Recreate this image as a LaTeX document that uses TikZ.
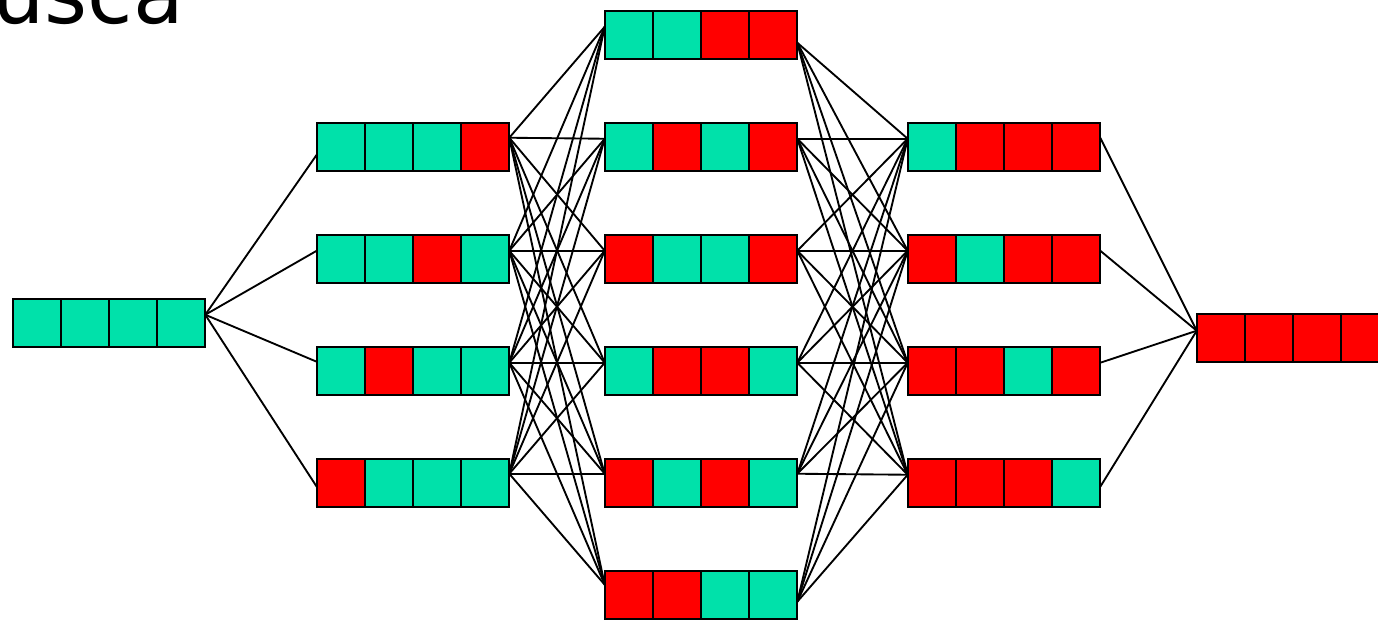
\documentclass[tikz,border=0pt]{standalone}
\usepackage{fontspec}
\newfontfamily\titlefont{DejaVu Sans}
\definecolor{bitG}{RGB}{0,225,170}
\definecolor{bitR}{RGB}{255,0,0}
\tikzset{
  G/.style={fill=bitG},
  R/.style={fill=bitR},
  cell/.style={draw=black, line width=1.9pt},
  conn/.style={draw=black, line width=1.4pt},
  boxnode/.style={inner sep=0pt, minimum width=144pt, minimum height=36pt}
}
% #1 name, #2 x-left, #3 y-top, #4-#7 cell colours, #8 left offset, #9 right offset (px)
\newcommand\bitbox[9]{%
  \foreach \cc [count=\ii from 0] in {#4,#5,#6,#7} {
    \path[cell,\cc] (#2+48*\ii,#3) rectangle ++(48,48);
  }
  \node[boxnode] (#1) at (#2+96,#3+24) {};
  \coordinate (#1L) at ([yshift=-#8*0.75pt]#1.north west);
  \coordinate (#1R) at ([yshift=-#9*0.75pt]#1.north east);
}
\begin{document}
\begin{tikzpicture}[x=0.75pt,y=-0.75pt]
\useasboundingbox (0,0) rectangle (1378,619);
\clip (0,0) rectangle (1378,619);

\node[anchor=base west, inner sep=0pt, font=\titlefont\fontsize{62}{62}\selectfont] (title) at (-8,23) {usca};

% column 1
\bitbox{a}{13}{299}{G}{G}{G}{G}{16}{16}
% column 2
\bitbox{b1}{317}{123}{G}{G}{G}{R}{32}{15}
\bitbox{b2}{317}{235}{G}{G}{R}{G}{16}{16}
\bitbox{b3}{317}{347}{G}{R}{G}{G}{15}{16}
\bitbox{b4}{317}{459}{R}{G}{G}{G}{28}{15}
% column 3
\bitbox{c1}{605}{11}{G}{G}{R}{R}{16}{32}
\bitbox{c2}{605}{123}{G}{R}{G}{R}{16}{16}
\bitbox{c3}{605}{235}{R}{G}{G}{R}{16}{16}
\bitbox{c4}{605}{347}{G}{R}{R}{G}{16}{16}
\bitbox{c5}{605}{459}{R}{G}{R}{G}{15}{15}
\bitbox{c6}{605}{571}{R}{R}{G}{G}{14}{31}
% column 4
\bitbox{d1}{908}{123}{G}{R}{R}{R}{16}{15}
\bitbox{d2}{908}{235}{R}{G}{R}{R}{16}{16}
\bitbox{d3}{908}{347}{R}{R}{G}{R}{16}{16}
\bitbox{d4}{908}{459}{R}{R}{R}{G}{16}{28}
% column 5
\bitbox{e}{1197}{314}{R}{R}{R}{R}{17}{17}

% connectors
\foreach \t in {b1,b2,b3,b4} { \draw[conn] (aR) -- (\t L); }
\foreach \s in {b1,b2,b3,b4} {
  \foreach \t in {c1,c2,c3,c4,c5,c6} { \draw[conn] (\s R) -- (\t L); }
}
\foreach \s in {c1,c2,c3,c4,c5,c6} {
  \foreach \t in {d1,d2,d3,d4} { \draw[conn] (\s R) -- (\t L); }
}
\foreach \s in {d1,d2,d3,d4} { \draw[conn] (\s R) -- (eL); }
\end{tikzpicture}
\end{document}
